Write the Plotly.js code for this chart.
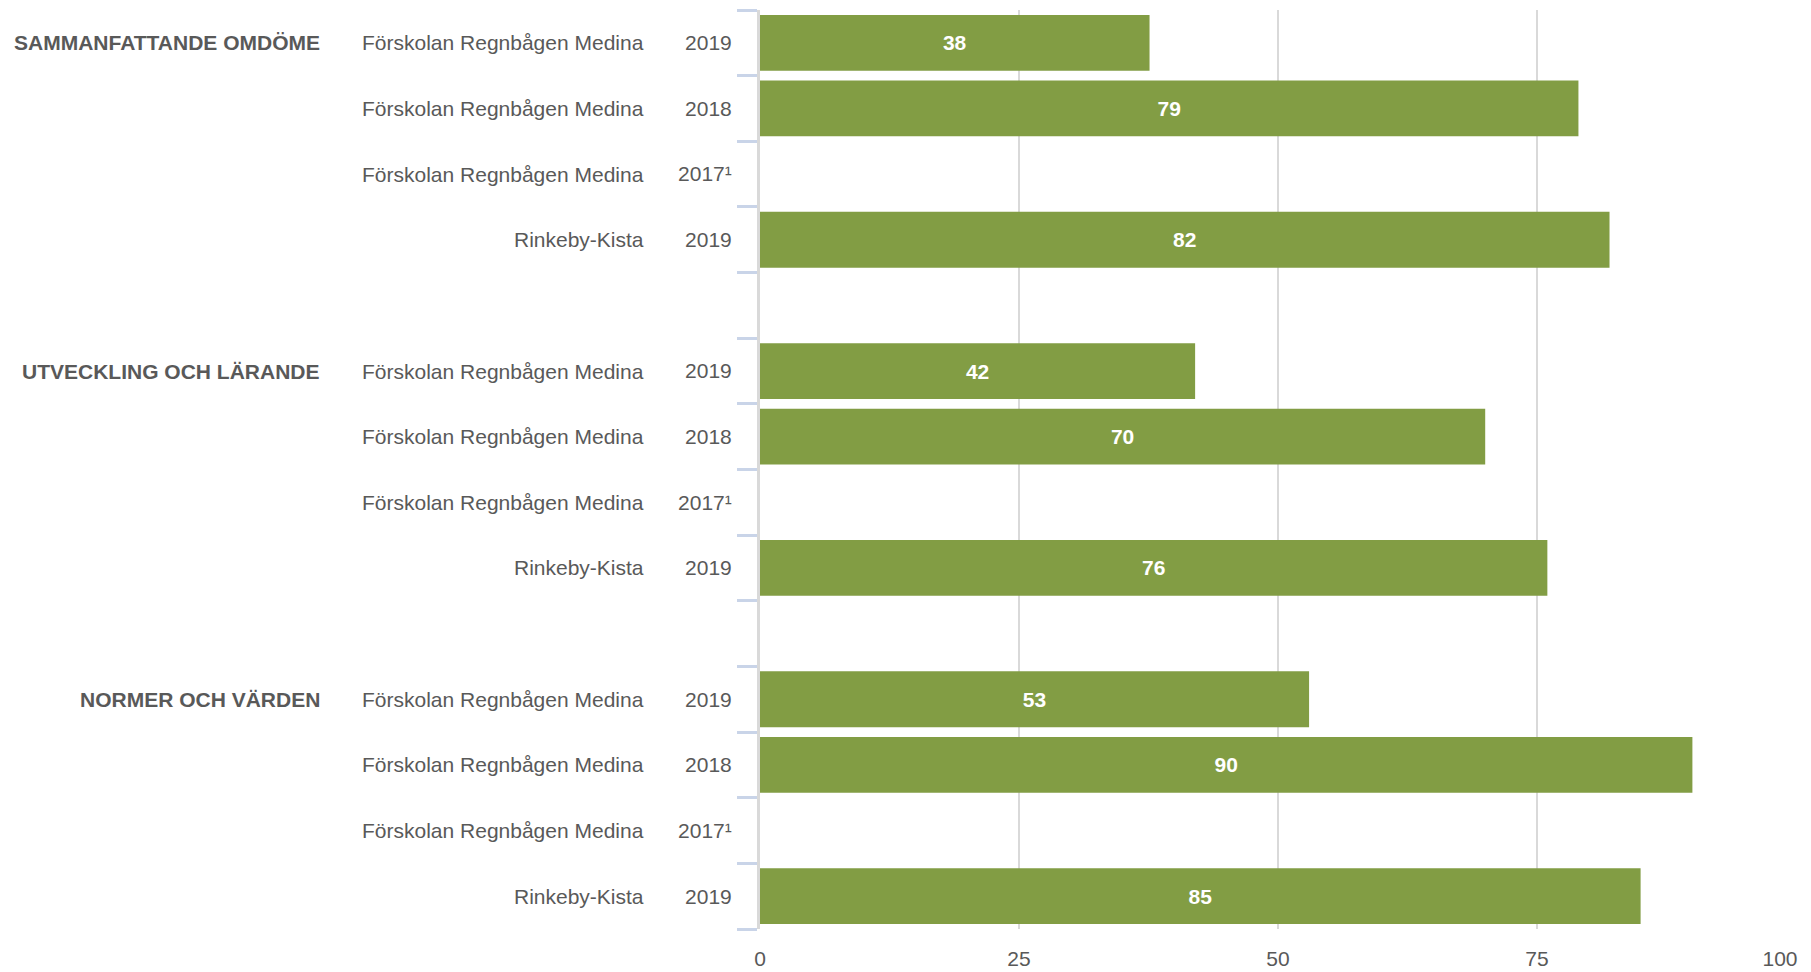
<!DOCTYPE html>
<html>
<head>
<meta charset="utf-8">
<script src="https://cdn.plot.ly/plotly-3.0.1.min.js"></script>
<style>html,body{margin:0;padding:0;background:#fff;}#chart{width:1811px;height:972px;}</style>
</head>
<body>
<div id="chart"></div>
<script>
// ---- data ----
const groupLabels = ['SAMMANFATTANDE OMDÖME', 'UTVECKLING OCH LÄRANDE', 'NORMER OCH VÄRDEN'];
const unitLabels = ['Förskolan Regnbågen Medina', 'Förskolan Regnbågen Medina', 'Förskolan Regnbågen Medina', 'Rinkeby-Kista'];
const yearLabels = ['2019', '2018', '2017¹', '2019'];
const sammanfattandeOmdome = [37.6, 79, null, 82];
const utvecklingOchLarande = [42, 70, null, 76];
const normerOchVarden = [53, 90, null, 85];
const xTickVals = [0, 25, 50, 75, 100];
const xGridVals = [25, 50, 75];

// ---- build rows ----
const groupValues = [sammanfattandeOmdome, utvecklingOchLarande, normerOchVarden];
const rowKeys = [], rowYears = [], rowUnits = [], rowGroups = [], rowValues = [];
groupLabels.forEach((g, gi) => {
  unitLabels.forEach((u, i) => {
    rowKeys.push(g + '|' + i);
    rowYears.push(yearLabels[i]);
    rowUnits.push(u);
    rowGroups.push(i === 0 ? g : '');
    rowValues.push(groupValues[gi][i]);
  });
  if (gi < groupLabels.length - 1) {
    rowKeys.push('gap|' + gi);
    rowYears.push('');
    rowUnits.push('');
    rowGroups.push('');
    rowValues.push(null);
  }
});

const FONT = 'Liberation Sans, Arial, sans-serif';
const GRAY = '#595959';
const W = 1811, H = 972;
const ML = 0, MR = 15;
const PW = W - ML - MR;

const barTrace = {
  type: 'bar',
  orientation: 'h',
  x: rowValues,
  y: rowKeys,
  xaxis: 'x',
  yaxis: 'y',
  marker: {color: '#829d44', line: {width: 0}},
  texttemplate: '%{x:.0f}',
  textposition: 'inside',
  insidetextanchor: 'middle',
  textangle: 0,
  textfont: {family: FONT, size: 21, color: '#ffffff', weight: 'bold'},
  hoverinfo: 'skip',
  cliponaxis: false
};

// empty helper traces so the label axes (x2, x3) are drawn
const labelAxisTrace2 = {
  type: 'scatter', mode: 'markers', x: [], y: [], xaxis: 'x2', yaxis: 'y',
  hoverinfo: 'skip', showlegend: false
};
const labelAxisTrace3 = {
  type: 'scatter', mode: 'markers', x: [], y: [], xaxis: 'x3', yaxis: 'y',
  hoverinfo: 'skip', showlegend: false
};

const annotations = [];
rowKeys.forEach((k, i) => {
  if (rowUnits[i]) {
    annotations.push({xref: 'paper', yref: 'y', x: 646 / PW, y: k, xanchor: 'right', yanchor: 'middle',
      text: rowUnits[i], showarrow: false, font: {family: FONT, size: 21, color: GRAY}});
  }
  if (rowGroups[i]) {
    annotations.push({xref: 'paper', yref: 'y', x: 322 / PW, y: k, xanchor: 'right', yanchor: 'middle',
      text: rowGroups[i], showarrow: false, font: {family: FONT, size: 21, color: GRAY, weight: 'bold'}});
  }
});

const labelAxisBase = {
  overlaying: 'x', anchor: 'y', side: 'bottom', range: [0, 100], fixedrange: true,
  tickmode: 'array', showgrid: false, zeroline: false, showline: false,
  ticks: '', ticklabelstandoff: 15, ticklabeloverflow: 'allow',
  tickfont: {family: FONT, size: 21, color: GRAY}
};

const layout = {
  width: W, height: H,
  margin: {l: ML, r: MR, t: 10, b: 43, pad: 0},
  paper_bgcolor: '#ffffff', plot_bgcolor: '#ffffff',
  showlegend: false,
  bargap: 0.15,
  font: {family: FONT, size: 21, color: GRAY},
  xaxis: {
    domain: [760 / PW, 1], range: [0, 100], fixedrange: true,
    tickmode: 'array', tickvals: xGridVals, showticklabels: false,
    showgrid: true, gridcolor: '#d9d9d9', gridwidth: 2,
    zeroline: false, showline: false, ticks: ''
  },
  xaxis2: Object.assign({}, labelAxisBase, {tickvals: xTickVals.slice(0, -1)}),
  xaxis3: Object.assign({}, labelAxisBase, {tickvals: xTickVals.slice(-1), ticklabelshift: -16}),
  yaxis: {
    type: 'category', categoryorder: 'array', categoryarray: rowKeys,
    range: [rowKeys.length - 0.5, -0.5], fixedrange: true,
    tickmode: 'array', tickvals: rowKeys, ticktext: rowYears,
    tickson: 'boundaries', ticks: 'outside', ticklen: 20, tickwidth: 3, tickcolor: '#c9d4e8',
    ticklabelstandoff: 21,
    showline: true, linecolor: '#d9d9d9', linewidth: 3,
    showgrid: false, zeroline: false,
    tickfont: {family: FONT, size: 21, color: GRAY}
  },
  annotations: annotations
};

Plotly.newPlot('chart', [barTrace, labelAxisTrace2, labelAxisTrace3], layout, {staticPlot: true, displayModeBar: false});
</script>
</body>
</html>
